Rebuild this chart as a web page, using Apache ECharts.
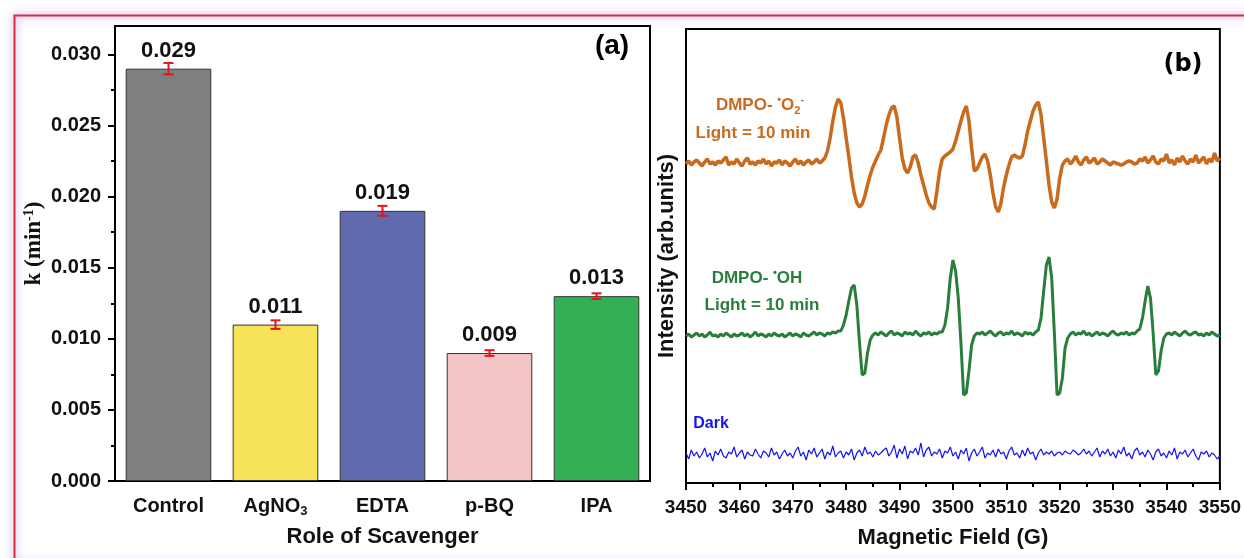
<!DOCTYPE html>
<html>
<head>
<meta charset="utf-8">
<script src="https://cdn.jsdelivr.net/npm/echarts@6.0.0/dist/echarts.min.js"></script>
<style>
  html, body { margin: 0; padding: 0; background: #fff; }
  #chart { width: 1244px; height: 558px; }
</style>
</head>
<body>
<div id="chart"></div>
<script>
  // (a) rate constants per scavenger
  const scavengers = ['Control', 'AgNO3', 'EDTA', 'p-BQ', 'IPA'];
  const rateK = [0.029, 0.011, 0.019, 0.009, 0.013];
  const rateErr = [0.0004, 0.0003, 0.00035, 0.0002, 0.0002];
  const kTicks = [0, 0.005, 0.010, 0.015, 0.020, 0.025, 0.030];
  const kMinorTicks = [0.0025, 0.0075, 0.0125, 0.0175, 0.0225, 0.0275];

  // (b) EPR traces, one value every 0.5 G from 3450 G
  const fieldStart = 3450;
  const fieldStep = 0.5;
  const o2Signal = [
    319, 322, 318, 321, 323, 320, 317, 321, 324, 319,
    321, 318, 322, 320, 323, 326, 318, 321, 319, 324,
    320, 317, 322, 325, 319, 321, 318, 322, 320, 324,
    319, 322, 317, 321, 320, 323, 318, 322, 320, 317,
    321, 324, 319, 322, 318, 321, 323, 319, 321, 324,
    320, 322,
    325, 332, 345, 362, 376, 384, 380, 365, 345, 326,
    306, 290, 280, 276, 279, 287, 298, 308, 316, 322,
    328, 333, 345, 358, 368, 375, 377, 366, 345, 325,
    314, 310, 316, 326, 328, 320, 308, 298, 288, 280,
    276, 274, 292, 312, 324, 327, 329, 331, 334, 342,
    352, 362, 371, 377, 362, 335, 312, 314, 320, 326,
    329, 322, 308, 290, 276, 271, 280, 296, 308, 318,
    326, 328, 326, 325, 327, 338, 352, 362, 372, 378,
    381, 368, 345, 322, 298, 281, 275, 284, 305, 318,
    322,
    324, 319, 322, 327, 321, 318, 323, 326, 320, 322,
    325, 319, 321, 324, 322, 320, 318, 321, 320, 319,
    318, 319, 321, 322, 321, 319, 320, 324, 322, 326,
    320, 323, 327, 321, 319, 324, 322, 329, 320, 323,
    318, 325, 321, 327, 322, 319, 324, 321, 328, 320,
    323, 326, 319, 324, 321, 330, 322, 325
  ];
  const ohSignal = [
    147, 149, 146, 148, 150, 147, 149, 146, 148, 151,
    147, 148, 146, 149, 147, 150, 148, 146, 149, 147,
    148, 150, 147, 149, 146, 148, 151, 147, 149, 148,
    146, 149, 147, 150, 148, 147, 149, 146, 148, 150,
    147, 149, 148, 146, 150, 148, 147, 149, 151, 148,
    150, 149, 147, 150, 149, 151, 150, 152,
    152, 158, 168, 182, 195, 198, 178, 140, 108, 110, 130, 143, 148,
    150, 148, 151, 149, 147, 150, 152, 148, 150, 149,
    147, 151, 149, 150, 148, 152, 149, 147, 150, 149,
    151, 148, 150, 149, 151,
    151, 158, 175, 205, 223, 212, 185, 140, 88, 90, 112, 138, 147,
    150, 149, 151, 148, 150, 152, 149, 147, 150, 151,
    148, 150, 149, 152, 148, 150, 149, 147, 151, 149,
    150, 148, 151,
    153, 165, 192, 218, 226, 205, 150, 88, 90, 105, 135, 145, 149,
    151, 148, 150, 149, 152, 148, 150, 147, 149, 151,
    148, 150, 149, 147, 150, 152, 149, 148, 150, 149,
    151, 148, 150, 149, 152,
    154, 165, 182, 197, 185, 150, 108, 112, 132, 145, 149,
    150, 148, 151, 149, 147, 150, 152, 149, 148, 150,
    151, 148, 149, 147, 150, 148, 151, 149, 147, 148
  ];
  const darkSignal = [
    30, 24, 33, 27, 31, 25, 29, 35, 26, 30, 22, 32, 28, 34, 27, 25, 31, 29, 36, 26,
    30, 33, 24, 31, 28, 27, 34, 29, 25, 32, 30, 26, 35, 28, 31, 24, 29, 33, 27, 30,
    25, 32, 36, 27, 31, 23, 33, 29, 35, 26, 30, 34, 24, 31, 28, 37, 26, 30, 32, 25,
    31, 28, 34, 23, 30, 33, 27, 36, 29, 31, 26, 32, 28, 30, 33, 35, 27, 31, 38, 25,
    34, 29, 37, 24, 32, 30, 35, 28, 40, 26, 33, 36, 27, 31, 29, 34, 25, 32, 30, 36,
    27, 31, 24, 33, 29, 35, 22, 30, 34, 27, 31, 36, 25, 30, 28, 33, 26, 34, 29, 31,
    24, 32, 36, 28, 30, 25, 33, 27, 35, 29, 31, 23, 30, 34, 28, 31, 29, 32, 27, 30,
    31, 28, 32, 30, 29, 33, 31, 28, 30, 34, 29, 32, 27, 31, 35, 26, 32, 29, 34, 27,
    31, 25, 33, 29, 36, 27, 30, 24, 32, 35, 28, 31, 26, 33, 29, 23, 31, 34, 27, 30,
    25, 32, 28, 35, 24, 31, 29, 33, 26, 30, 34, 27, 23, 31, 29, 32, 26, 30, 28, 24,
    27
  ];

  const barColors = ['#7f7f7f', '#f6e35a', '#606bae', '#f3c5c7', '#35af55'];
  const sans = 'Liberation Sans';
  const toPairs = arr => arr.map((v, i) => [fieldStart + i * fieldStep, v]);

  const myChart = echarts.init(document.getElementById('chart'));

  const option = {
    animation: false,
    backgroundColor: '#fff',
    grid: [
      { left: 115, top: 26, width: 535, height: 455, show: true, borderColor: '#000', borderWidth: 2, backgroundColor: 'transparent' },
      { left: 686, top: 29, width: 536, height: 454, show: true, borderColor: '#000', borderWidth: 2, backgroundColor: 'transparent' }
    ],
    xAxis: [
      {
        type: 'category', gridIndex: 0, data: scavengers,
        axisLine: { lineStyle: { color: '#000', width: 2 } },
        axisTick: { alignWithLabel: true, length: 7, lineStyle: { color: '#000', width: 2 } },
        axisLabel: {
          interval: 0, margin: 13, color: '#111',
          formatter: v => v === 'AgNO3' ? '{t|AgNO}{sub|3}' : '{t|' + v + '}',
          rich: {
            t: { fontFamily: sans, fontWeight: 'bold', fontSize: 20, lineHeight: 24, color: '#111' },
            sub: { fontFamily: sans, fontWeight: 'bold', fontSize: 13, lineHeight: 13, verticalAlign: 'bottom', color: '#111' }
          }
        },
        name: 'Role of Scavenger', nameLocation: 'middle', nameGap: 45,
        nameTextStyle: { fontFamily: sans, fontWeight: 'bold', fontSize: 22, color: '#111' }
      },
      {
        type: 'value', gridIndex: 1, min: 3450, max: 3550, interval: 10,
        axisLine: { lineStyle: { color: '#000', width: 2 } },
        axisTick: { length: 7, lineStyle: { color: '#000', width: 2 } },
        minorTick: { show: true, splitNumber: 2, length: 4, lineStyle: { color: '#000', width: 2 } },
        splitLine: { show: false },
        axisLabel: { margin: 15, color: '#111', fontFamily: sans, fontWeight: 'bold', fontSize: 19, formatter: v => String(v) },
        name: 'Magnetic Field (G)', nameLocation: 'middle', nameGap: 44,
        nameTextStyle: { fontFamily: sans, fontWeight: 'bold', fontSize: 22, color: '#111' }
      }
    ],
    yAxis: [
      {
        type: 'value', gridIndex: 0, position: 'left', min: 0, max: 0.032,
        axisLine: { show: true, lineStyle: { color: '#000', width: 2 } },
        axisTick: { show: true, length: 7, customValues: kTicks, lineStyle: { color: '#000', width: 2 } },
        splitLine: { show: false },
        axisLabel: {
          customValues: kTicks, margin: 14, color: '#111',
          fontFamily: sans, fontWeight: 'bold', fontSize: 20,
          formatter: v => v.toFixed(3)
        },
        name: '{a|k (min}{sup|-1}{a|)}', nameLocation: 'middle', nameGap: 68,
        nameTextStyle: {
          padding: [0, 0, 0, 20],
          rich: {
            a: { fontFamily: 'Liberation Serif', fontWeight: 'bold', fontSize: 23, lineHeight: 25, color: '#111' },
            sup: { fontFamily: 'Liberation Serif', fontWeight: 'bold', fontSize: 14, lineHeight: 14, verticalAlign: 'top', color: '#111' }
          }
        }
      },
      {
        type: 'value', gridIndex: 0, position: 'left', min: 0, max: 0.032,
        axisLine: { show: false },
        axisTick: { show: true, length: 4, customValues: kMinorTicks, lineStyle: { color: '#000', width: 2 } },
        axisLabel: { show: false },
        splitLine: { show: false }
      },
      {
        type: 'value', gridIndex: 1, position: 'left', min: 0, max: 454,
        axisLine: { show: true, lineStyle: { color: '#000', width: 2 } },
        axisTick: { show: false },
        axisLabel: { show: false },
        splitLine: { show: false },
        name: 'Intensity (arb.units)', nameLocation: 'middle', nameGap: 8,
        nameTextStyle: { fontFamily: sans, fontWeight: 'bold', fontSize: 22, color: '#111' }
      }
    ],
    series: [
      {
        type: 'bar', xAxisIndex: 0, yAxisIndex: 0, barWidth: '80%',
        data: rateK.map((v, i) => ({ value: v, itemStyle: { color: barColors[i] } })),
        itemStyle: { borderColor: '#333', borderWidth: 1 },
        label: {
          show: true, position: 'top', distance: 7,
          fontFamily: sans, fontWeight: 'bold', fontSize: 22, color: '#111',
          formatter: p => p.value.toFixed(3)
        }
      },
      {
        type: 'custom', xAxisIndex: 0, yAxisIndex: 0, z: 5,
        data: rateK.map((v, i) => [i, v - rateErr[i], v + rateErr[i]]),
        encode: { x: 0, y: [1, 2] },
        renderItem: function (params, api) {
          var top = api.coord([api.value(0), api.value(2)]);
          var bot = api.coord([api.value(0), api.value(1)]);
          var x = top[0];
          var w = 5;
          var st = { stroke: '#e8141c', lineWidth: 2 };
          return {
            type: 'group',
            children: [
              { type: 'line', shape: { x1: x, y1: top[1], x2: x, y2: bot[1] }, style: st },
              { type: 'line', shape: { x1: x - w, y1: top[1], x2: x + w, y2: top[1] }, style: st },
              { type: 'line', shape: { x1: x - w, y1: bot[1], x2: x + w, y2: bot[1] }, style: st }
            ]
          };
        }
      },
      {
        type: 'line', xAxisIndex: 1, yAxisIndex: 2, data: toPairs(o2Signal),
        showSymbol: false, lineStyle: { color: '#c96a1c', width: 3.5 }
      },
      {
        type: 'line', xAxisIndex: 1, yAxisIndex: 2, data: toPairs(ohSignal),
        showSymbol: false, lineStyle: { color: '#2a7e3c', width: 3 }
      },
      {
        type: 'line', xAxisIndex: 1, yAxisIndex: 2, data: toPairs(darkSignal),
        showSymbol: false, lineStyle: { color: '#1414f0', width: 1.2 }
      }
    ],
    graphic: [
      {
        type: 'rect', left: 12, top: 13, z: -10, silent: true,
        shape: { width: 1245, height: 548 },
        style: { fill: 'none', stroke: '#e3283a', lineWidth: 2, shadowBlur: 8, shadowColor: 'rgba(140,100,225,0.9)' }
      },
      {
        type: 'text', x: 612, y: 46,
        style: { text: '(a)', fontFamily: sans, fontWeight: 'bold', fontSize: 28, fill: '#000', align: 'center', verticalAlign: 'middle' }
      },
      {
        type: 'text', x: 1183, y: 65,
        style: { text: '(b)', fontFamily: 'DejaVu Sans', fontWeight: 'bold', fontSize: 24, fill: '#000', align: 'center', verticalAlign: 'middle' }
      },
      {
        type: 'text', x: 760, y: 105,
        style: {
          text: '{t|DMPO- }{sup|•}{t|O}{sub|2}{sup|-}', align: 'center', verticalAlign: 'middle',
          rich: {
            t: { fontFamily: sans, fontWeight: 'bold', fontSize: 17, lineHeight: 22, fill: '#c96a1c' },
            sup: { fontFamily: sans, fontWeight: 'bold', fontSize: 11, lineHeight: 11, verticalAlign: 'top', fill: '#c96a1c' },
            sub: { fontFamily: sans, fontWeight: 'bold', fontSize: 11, lineHeight: 11, verticalAlign: 'bottom', fill: '#c96a1c' }
          }
        }
      },
      {
        type: 'text', x: 753, y: 133,
        style: { text: 'Light = 10 min', fontFamily: sans, fontWeight: 'bold', fontSize: 17, fill: '#c96a1c', align: 'center', verticalAlign: 'middle' }
      },
      {
        type: 'text', x: 757, y: 278,
        style: {
          text: '{t|DMPO- }{sup|•}{t|OH}', align: 'center', verticalAlign: 'middle',
          rich: {
            t: { fontFamily: sans, fontWeight: 'bold', fontSize: 17, lineHeight: 22, fill: '#2a7e3c' },
            sup: { fontFamily: sans, fontWeight: 'bold', fontSize: 11, lineHeight: 11, verticalAlign: 'top', fill: '#2a7e3c' }
          }
        }
      },
      {
        type: 'text', x: 762, y: 305,
        style: { text: 'Light = 10 min', fontFamily: sans, fontWeight: 'bold', fontSize: 17, fill: '#2a7e3c', align: 'center', verticalAlign: 'middle' }
      },
      {
        type: 'text', x: 711, y: 424,
        style: { text: 'Dark', fontFamily: sans, fontWeight: 'bold', fontSize: 16, fill: '#1414f0', align: 'center', verticalAlign: 'middle' }
      }
    ]
  };

  myChart.setOption(option);
</script>
</body>
</html>
